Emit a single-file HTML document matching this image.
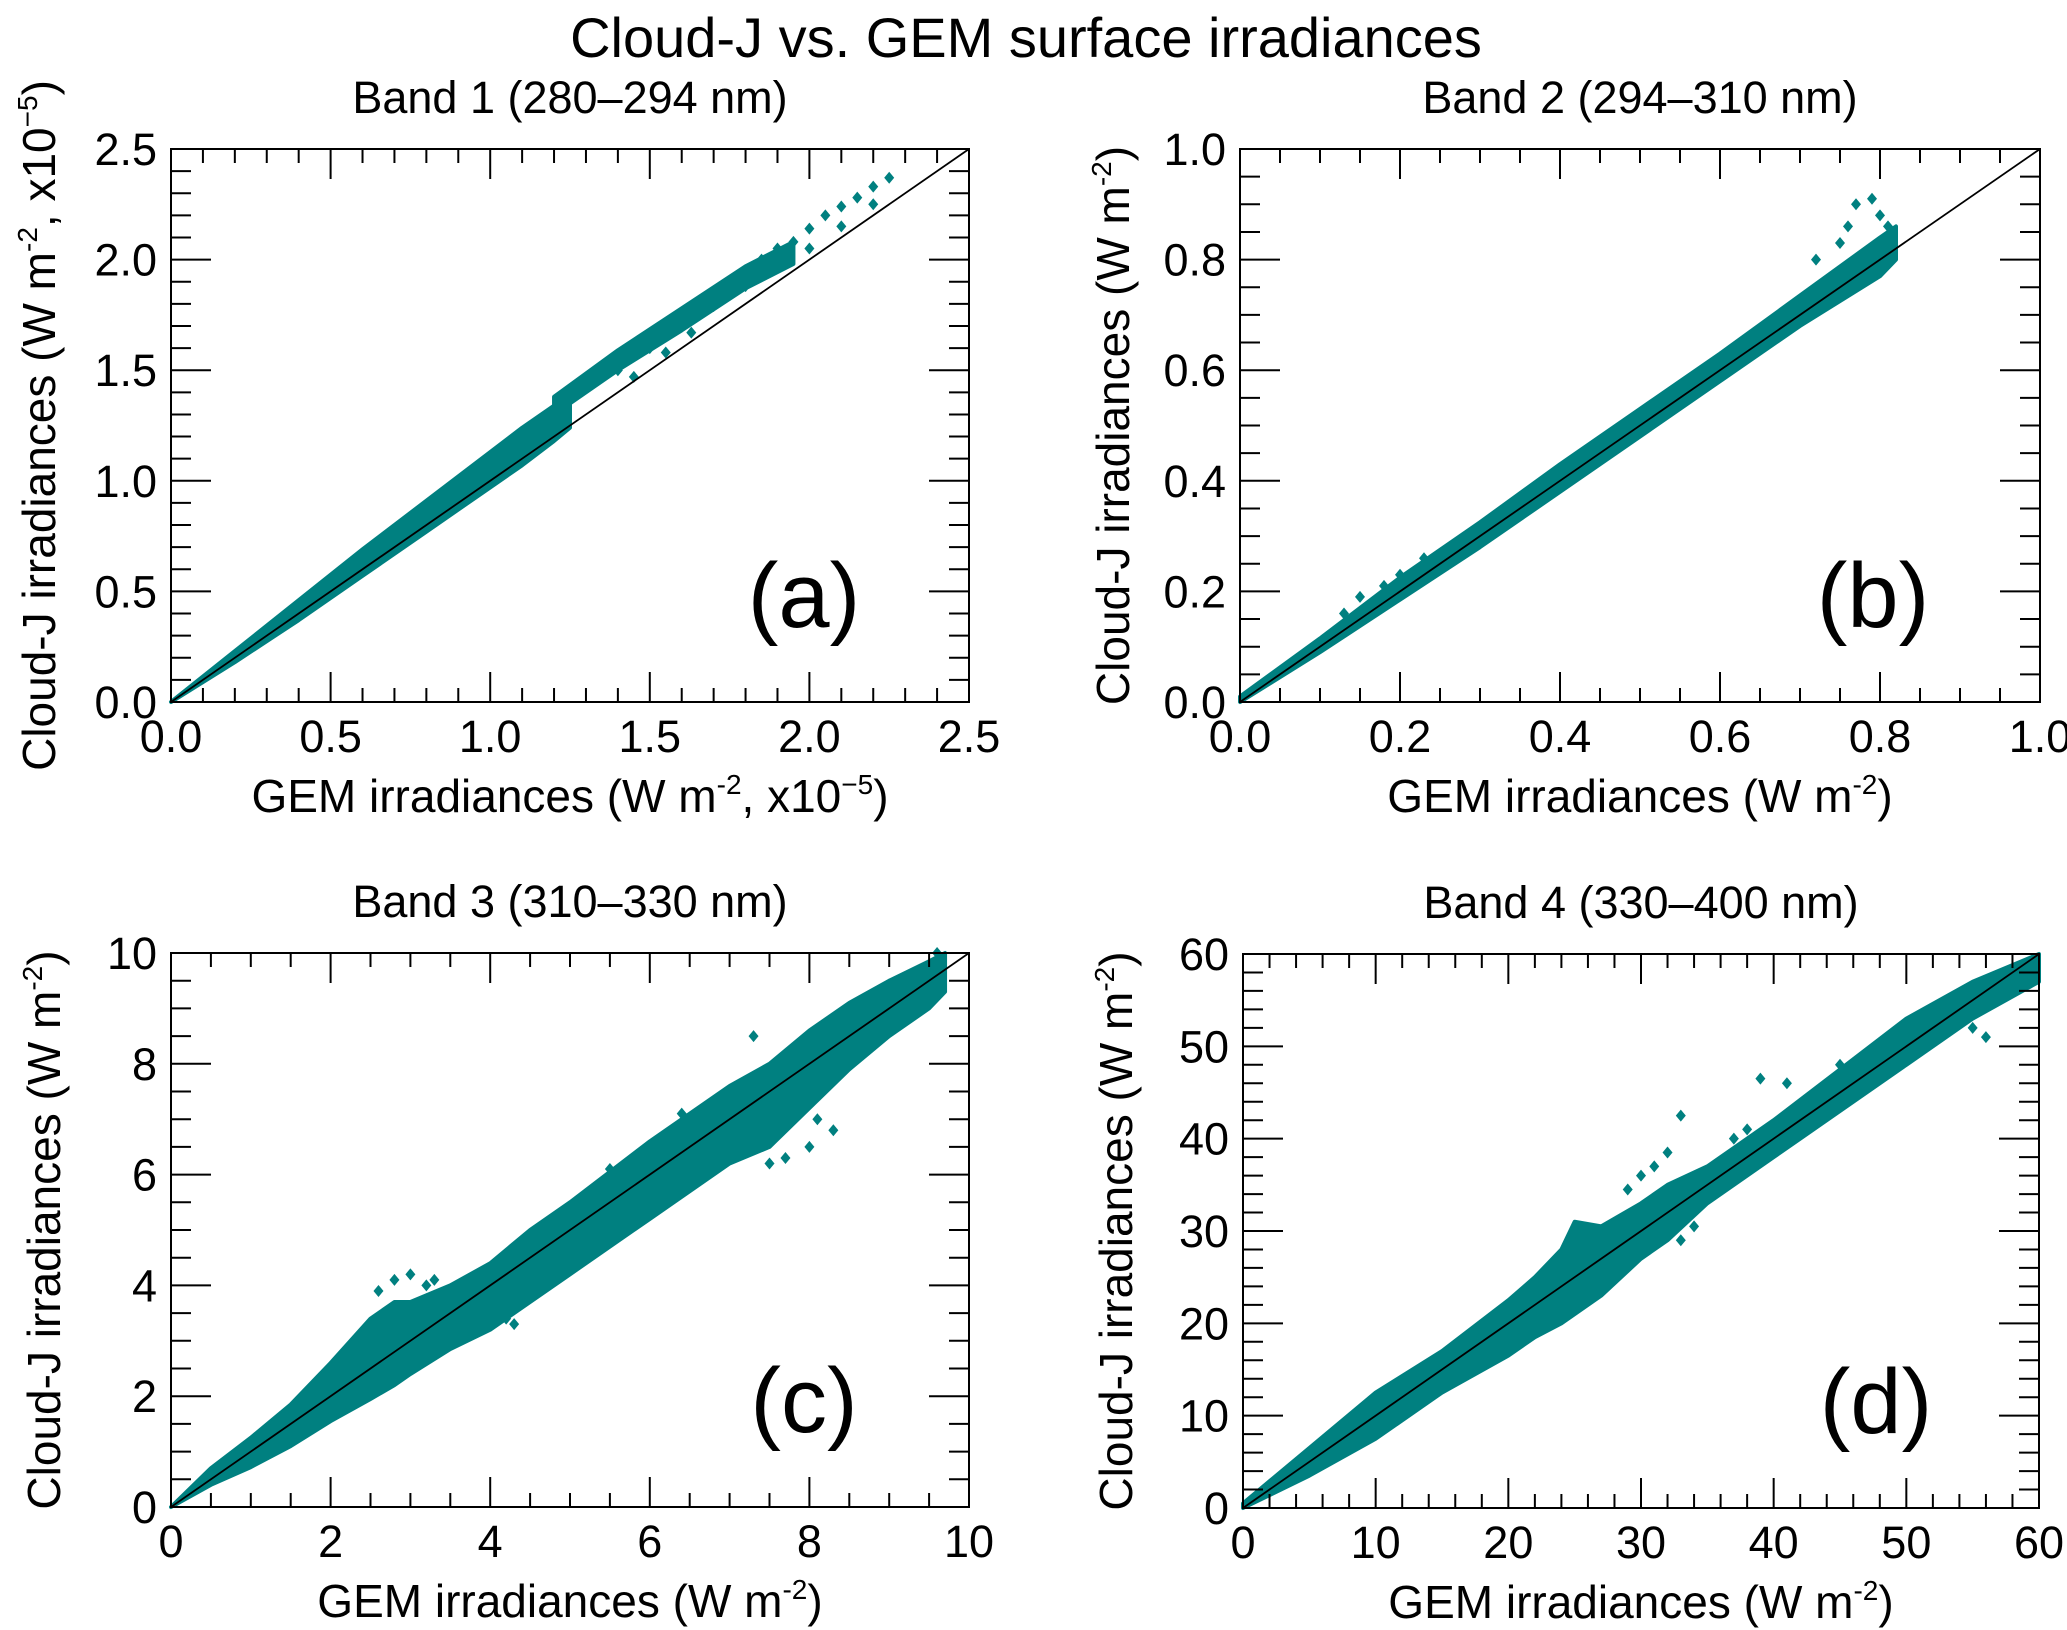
<!DOCTYPE html>
<html><head><meta charset="utf-8">
<style>
html,body{margin:0;padding:0;background:#fff;}
svg{display:block;font-family:"Liberation Sans",sans-serif;}
</style></head>
<body>
<svg id="fig" width="2067" height="1630" viewBox="0 0 2067 1630" xmlns="http://www.w3.org/2000/svg">
<text x="1026" y="57" font-size="56" text-anchor="middle">Cloud-J vs. GEM surface irradiances</text>
</svg>
<script>
// ---- Panel (a) data ----
const aX  = [0,0.2,0.4,0.6,0.8,1.0,1.1,1.2,1.25];
const aUp = [0,0.23,0.46,0.69,0.91,1.13,1.24,1.34,1.37];
const aLo = [0,0.18,0.37,0.57,0.77,0.97,1.07,1.18,1.24];
// streak bands in panel (a)
const aSX  = [1.2,1.4,1.6,1.8,1.95];
const aSUp = [1.38,1.59,1.78,1.97,2.08];
const aSLo = [1.3,1.5,1.68,1.87,1.98];
const aOutX = [1.3,1.4,1.5,1.6,1.7,1.8,1.9,2.0,2.1,2.2,2.25,1.4,1.5,1.6,1.7,1.8,1.9,2.0,2.1,2.2,1.45,1.55,1.63,1.35,1.45,1.55,1.65,1.75,1.85,1.95,2.05,2.15];
const aOutY = [1.45,1.55,1.65,1.74,1.84,1.95,2.05,2.14,2.24,2.33,2.37,1.5,1.6,1.7,1.79,1.88,1.97,2.05,2.15,2.25,1.47,1.58,1.67,1.48,1.58,1.68,1.78,1.9,2.0,2.08,2.2,2.28];
// ---- Panel (b) data ----
const bX  = [0,0.1,0.2,0.3,0.4,0.5,0.6,0.7,0.8,0.82];
const bUp = [0.01,0.115,0.225,0.325,0.43,0.53,0.63,0.735,0.84,0.86];
const bLo = [0,0.09,0.185,0.28,0.38,0.48,0.58,0.68,0.77,0.8];
const bSX = [], bSUp = [], bSLo = [];
const bOutX = [0.72,0.75,0.77,0.79,0.8,0.81,0.76,0.78,0.13,0.15,0.18,0.2,0.23];
const bOutY = [0.8,0.83,0.9,0.91,0.88,0.86,0.86,0.78,0.16,0.19,0.21,0.23,0.26];
// ---- Panel (c) data ----
const cX  = [0,0.5,1,1.5,2,2.5,2.8,3,3.5,4,4.5,5,6,7,7.5,8,8.5,9,9.5,9.7];
const cUp = [0,0.7,1.25,1.85,2.6,3.4,3.7,3.7,4.0,4.4,5.0,5.5,6.6,7.6,8.0,8.6,9.1,9.5,9.85,10.0];
const cLo = [0,0.4,0.72,1.1,1.55,1.95,2.2,2.4,2.85,3.2,3.7,4.2,5.2,6.2,6.5,7.2,7.9,8.5,9.0,9.3];
const cSX = [], cSUp = [], cSLo = [];
const cOutX = [4.3,4.2,3.0,2.8,3.2,4.5,5.0,5.5,6.4,7.5,8.0,7.7,8.1,8.3,7.3,9.6,2.6,3.3];
const cOutY = [3.3,3.4,4.2,4.1,4.0,4.5,5.3,6.1,7.1,6.2,6.5,6.3,7.0,6.8,8.5,10.0,3.9,4.1];
// ---- Panel (d) data ----
const dX  = [0,5,10,15,20,22,24,25,27,30,32,35,40,45,50,55,60];
const dUp = [0.5,6.5,12.5,17,22.5,25,28,31,30.5,33,35,37,42,47.5,53,57,60];
const dLo = [0,3.5,7.5,12.5,16.5,18.5,20,21,23,27,29,33,38,43,48,53,57];
const dSX = [], dSUp = [], dSLo = [];
const dOutX = [33,36,37,38,39,41,45,34,33,55,56,29,30,31,32];
const dOutY = [42.5,37.5,40,41,46.5,46,48,30.5,29,52,51,34.5,36,37,38.5];
// ---- tick labels ----
const aTicks = ["0.0","0.5","1.0","1.5","2.0","2.5"];
const bTicks = ["0.0","0.2","0.4","0.6","0.8","1.0"];
const cTicks = ["0","2","4","6","8","10"];
const dTicks = ["0","10","20","30","40","50","60"];

const NS="http://www.w3.org/2000/svg";
const svg=document.getElementById('fig');
function mk(tag,attrs,parent){const e=document.createElementNS(NS,tag);for(const k in attrs)e.setAttribute(k,attrs[k]);(parent||svg).appendChild(e);return e;}

const panels=[
 {id:'a',x0:171,x1:969,y0:149,y1:702,max:2.5,ticks:aTicks,minor:5,X:aX,U:aUp,L:aLo,SX:aSX,SU:aSUp,SL:aSLo,OX:aOutX,OY:aOutY,title:'Band 1 (280–294 nm)',exp:true},
 {id:'b',x0:1240,x1:2040,y0:149,y1:702,max:1.0,ticks:bTicks,minor:4,X:bX,U:bUp,L:bLo,SX:bSX,SU:bSUp,SL:bSLo,OX:bOutX,OY:bOutY,title:'Band 2 (294–310 nm)',exp:false},
 {id:'c',x0:171,x1:969,y0:953,y1:1507,max:10,ticks:cTicks,minor:4,X:cX,U:cUp,L:cLo,SX:cSX,SU:cSUp,SL:cSLo,OX:cOutX,OY:cOutY,title:'Band 3 (310–330 nm)',exp:false},
 {id:'d',x0:1243,x1:2039,y0:954,y1:1508,max:60,ticks:dTicks,minor:5,X:dX,U:dUp,L:dLo,SX:dSX,SU:dSUp,SL:dSLo,OX:dOutX,OY:dOutY,title:'Band 4 (330–400 nm)',exp:false}
];

panels.forEach(p=>{
  const g=mk('g',{});
  
  
  const sx=v=>p.x0+(v/p.max)*(p.x1-p.x0);
  const sy=v=>p.y1-(v/p.max)*(p.y1-p.y0);
  const cx=(p.x0+p.x1)/2, cy=(p.y0+p.y1)/2;
  const t=mk('text',{x:cx,y:p.y0-36,'font-size':45,'text-anchor':'middle'},g);
  t.textContent=p.title;
  
  
  function band(X,U,L,name){
    if(!X.length) return;
    let d='M'+sx(X[0])+','+sy(U[0]);
    for(let i=1;i<X.length;i++) d+=' L'+sx(X[i])+','+sy(U[i]);
    for(let i=X.length-1;i>=0;i--) d+=' L'+sx(X[i])+','+sy(L[i]);
    d+='Z';
    const env=mk('path',{d:d,fill:'#008080',stroke:'#008080','stroke-width':4,'stroke-linejoin':'round'},g);
    
    
  }
  band(p.X,p.U,p.L,'scatter-cloud-'+p.id);
  band(p.SX,p.SU,p.SL,'scatter-streak-'+p.id);
  for(let i=0;i<p.OX.length;i++){
    const px=sx(p.OX[i]),py=sy(p.OY[i]);
    const m=mk('path',{d:`M${px},${py-6} L${px+5},${py} L${px},${py+6} L${px-5},${py} Z`,fill:'#008080'},g);
    
    
  }
  const ln=mk('line',{x1:sx(0),y1:sy(0),x2:sx(p.max),y2:sy(p.max),stroke:'#000','stroke-width':1.8},g);
  
  
  const fr=mk('rect',{x:p.x0,y:p.y0,width:p.x1-p.x0,height:p.y1-p.y0,fill:'none',stroke:'#000','stroke-width':2},g);
  
  
  const nMaj=p.ticks.length-1, nAll=nMaj*p.minor;
  for(let i=0;i<=nAll;i++){
    const v=p.max*i/nAll, maj=(i%p.minor===0);
    const xl=maj?30:14, yl=maj?40:20;
    const X=sx(v),Y=sy(v);
    mk('line',{x1:X,y1:p.y1,x2:X,y2:p.y1-xl,stroke:'#000','stroke-width':2},g);
    mk('line',{x1:X,y1:p.y0,x2:X,y2:p.y0+xl,stroke:'#000','stroke-width':2},g);
    mk('line',{x1:p.x0,y1:Y,x2:p.x0+yl,y2:Y,stroke:'#000','stroke-width':2},g);
    mk('line',{x1:p.x1,y1:Y,x2:p.x1-yl,y2:Y,stroke:'#000','stroke-width':2},g);
  }
  p.ticks.forEach((lab,i)=>{
    const v=p.max*i/nMaj;
    const tx=mk('text',{x:sx(v),y:p.y1+50,'font-size':45,'text-anchor':'middle'},g);
    tx.textContent=lab;
    
    
    const ty=mk('text',{x:p.x0-14,y:sy(v)+16,'font-size':45,'text-anchor':'end'},g);
    ty.textContent=lab;
    
    
  });
  const sup=p.exp?'<tspan dy="-18" font-size="28">-2</tspan><tspan dy="18">, x10</tspan><tspan dy="-18" font-size="28">−5</tspan><tspan dy="18">)</tspan>':'<tspan dy="-18" font-size="28">-2</tspan><tspan dy="18">)</tspan>';
  const xt=mk('text',{x:cx,y:p.y1+110,'font-size':46,'text-anchor':'middle'},g);
  xt.innerHTML='GEM irradiances (W m'+sup;
  
  
  const yx=p.x0-(p.exp?132:127);
  const yt=mk('text',{x:0,y:0,'font-size':46,'text-anchor':'middle',transform:`translate(${yx+16},${cy}) rotate(-90)`},g);
  yt.innerHTML='Cloud-J irradiances (W m'+sup;
  
  
  const pl=mk('text',{x:p.x0+633,y:p.y1-75,'font-size':92,'text-anchor':'middle'},g);
  pl.textContent='('+p.id+')';
  
  
});
</script>
</body></html>
